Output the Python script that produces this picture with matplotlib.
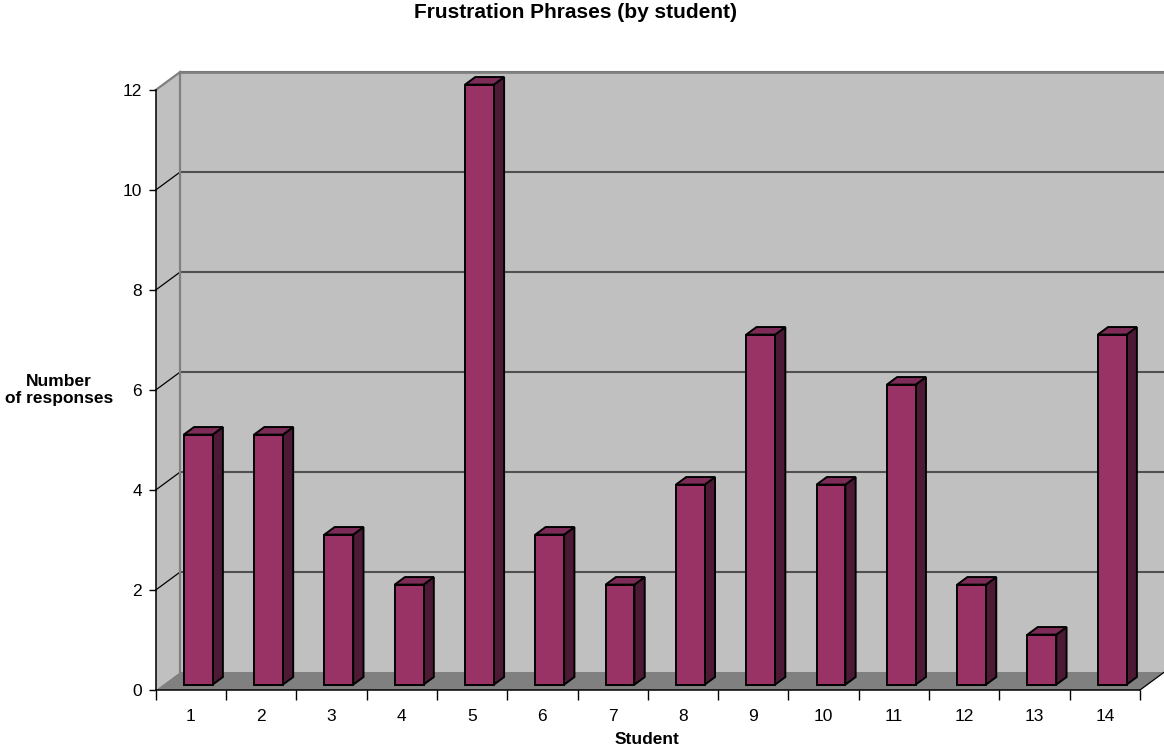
import numpy as np
import matplotlib.pyplot as plt
from matplotlib.patches import Polygon

plt.rcParams['font.family'] = ['Liberation Sans', 'DejaVu Sans']

students = [str(i) for i in range(1, 15)]
responses = [5, 5, 3, 2, 12, 3, 2, 4, 7, 4, 6, 2, 1, 7]
yticks = [0, 2, 4, 6, 8, 10, 12]

# depth of the 3D box in data units (x: categories, y: values)
DX, DY = 0.348, 0.36
BAR_W = 0.41
D0, D1 = 0.30, 0.72   # bar front/back as a fraction of box depth

front_col = '#993366'
side_col = '#4d1a36'
top_col = '#7d2b57'
wall_col = '#c0c0c0'
floor_col = '#808080'

fig = plt.figure(figsize=(11.64, 7.5), dpi=100)
ax = fig.add_axes([155.7 / 1164, 60 / 750, 984.3 / 1164, 600 / 750])
ax.set_xlim(0.5, 14.5)
ax.set_ylim(0, 12)
ax.set_facecolor('none')

x0, x1 = 0.5, 14.5
ymax = 12

def poly(pts, fc, ec='none', lw=0, z=1):
    p = Polygon(pts, closed=True, facecolor=fc, edgecolor=ec, linewidth=lw,
                clip_on=False, zorder=z, joinstyle='miter')
    ax.add_patch(p)

# back wall, side wall, floor
poly([(x0 + DX, DY), (x1 + DX, DY), (x1 + DX, ymax + DY), (x0 + DX, ymax + DY)], wall_col, z=0.5)
poly([(x0, 0), (x0 + DX, DY), (x0 + DX, ymax + DY), (x0, ymax)], wall_col, z=0.5)
poly([(x0, 0), (x1, 0), (x1 + DX, DY), (x0 + DX, DY)], floor_col, z=0.6)

# gridlines on back wall and side wall
for v in yticks[1:]:
    ax.plot([x0 + DX, x1 + DX], [v + DY, v + DY], color='#505050', lw=1.5,
            clip_on=False, zorder=0.7, solid_capstyle='butt')
    ax.plot([x0, x0 + DX], [v, v + DY], color='black' if v < ymax else '#808080',
            lw=0.9 if v < ymax else 1.6, clip_on=False, zorder=0.7)
ax.plot([x0 + DX, x0 + DX], [DY, ymax + DY], color='#808080', lw=1.6, clip_on=False, zorder=0.7)
ax.plot([x0 + DX, x1 + DX], [ymax + DY, ymax + DY], color='#808080', lw=2, clip_on=False, zorder=0.7)
ax.plot([x1, x1 + DX], [0, DY], color='black', lw=0.9, clip_on=False, zorder=0.8)

# 3D bars
bdx, bdy = (D1 - D0) * DX, (D1 - D0) * DY
for i, v in enumerate(responses):
    c = i + 1
    l = c - BAR_W / 2 + D0 * DX
    r = c + BAR_W / 2 + D0 * DX
    b = D0 * DY
    t = v + D0 * DY
    kw = dict(ec='black', lw=1.4, z=2)
    poly([(r, b), (r + bdx, b + bdy), (r + bdx, t + bdy), (r, t)], side_col, **kw)
    poly([(l, t), (r, t), (r + bdx, t + bdy), (l + bdx, t + bdy)], top_col, **kw)
    poly([(l, b), (r, b), (r, t), (l, t)], front_col, **kw)

# axes
for s in ['top', 'right']:
    ax.spines[s].set_visible(False)
ax.spines['left'].set_linewidth(1.1)
ax.spines['bottom'].set_linewidth(1.1)
ax.spines['left'].set_zorder(3)
ax.spines['bottom'].set_zorder(3)

ax.set_yticks(yticks)
ax.tick_params(axis='y', length=5, width=1, pad=5, labelsize=12.5, direction='out')
ax.set_xticks(np.arange(0.5, 15.5, 1))
ax.set_xticklabels([])
ax.set_xticks(np.arange(1, 15), minor=True)
ax.set_xticklabels(students, minor=True)
ax.tick_params(axis='x', which='major', length=7.5, width=1, direction='out')
ax.tick_params(axis='x', which='minor', length=0, pad=13.5, labelsize=12.5)

fig.text(576 / 1164, 1 - 13 / 750, 'Frustration Phrases (by student)', ha='center', va='center',
         fontsize=15, fontweight='bold')
fig.text(647 / 1164, 1 - 739 / 750, 'Student', ha='center', va='center',
         fontsize=12.5, fontweight='bold')
fig.text(59 / 1164, 1 - 390 / 750, 'Number\nof responses', ha='center', va='center',
         fontsize=12.5, fontweight='bold', linespacing=1.2)

fig.savefig('out.png', dpi=100)
